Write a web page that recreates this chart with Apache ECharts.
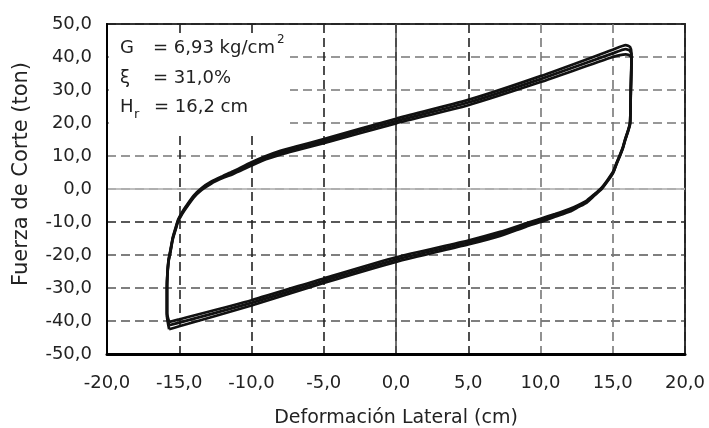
<!DOCTYPE html>
<html>
<head>
<meta charset="utf-8">
<script src="https://cdn.jsdelivr.net/npm/echarts@6/dist/echarts.min.js"></script>
<style>
  html, body { margin: 0; padding: 0; background: #fff; }
  #chart { width: 709px; height: 428px; }
</style>
</head>
<body>
<div id="chart"></div>
<script>
  // ticks
  let xTickLabels = ['-20,0', '-15,0', '-10,0', '-5,0', '0,0', '5,0', '10,0', '15,0', '20,0'];
  let yTickLabels = ['-50,0', '-40,0', '-30,0', '-20,0', '-10,0', '0,0', '10,0', '20,0', '30,0', '40,0', '50,0'];

  // lazo histeretico: deformacion (cm), recorrido desde la esquina inferior izquierda
  let deformacion = [-15.7, -15.85, -15.85, -15.75, -15.6, -15.45, -15.25, -15.07, -14.8, -14.5, -14.0, -13.45, -12.8, -12.0, -11.3, -10.0, -9.0, -8.0, -7.0, -5.0, 0.0, 5.0, 10.0, 15.0, 15.9, 16.2, 16.3, 16.25, 16.2, 16.08, 15.85, 15.7, 15.5, 15.25, 15.04, 14.65, 14.23, 13.7, 13.2, 12.6, 12.04, 11.0, 10.0, 9.0, 7.2, 5.0, 0.0, -5.0, -10.0, -15.0, -15.7];
  // fuerza de corte (ton) de tres ciclos
  let fuerzaCiclo1 = [-40.3, -37.5, -29.5, -21.7, -18.3, -14.7, -11.7, -9.2, -7.0, -5.0, -2.0, 0.3, 2.2, 3.9, 5.3, 8.1, 10.0, 11.6, 12.8, 15.1, 21.3, 27.0, 34.2, 42.2, 43.6, 43.0, 41.0, 30.5, 20.3, 18.1, 15.0, 12.7, 10.4, 7.8, 5.4, 2.8, 0.4, -1.7, -3.5, -4.9, -6.0, -7.6, -9.0, -10.4, -13.0, -15.6, -20.7, -27.1, -33.7, -39.5, -40.3];
  let fuerzaCiclo2 = [-41.3, -38.0, -30.0, -22.0, -18.6, -15.0, -12.0, -9.5, -7.3, -5.3, -2.3, 0.0, 1.9, 3.6, 4.9, 7.6, 9.5, 11.0, 12.2, 14.5, 20.6, 26.2, 33.3, 41.1, 42.4, 41.8, 40.0, 30.0, 20.0, 17.9, 14.8, 12.5, 10.2, 7.6, 5.2, 2.6, 0.2, -1.9, -3.8, -5.2, -6.4, -8.0, -9.5, -10.9, -13.6, -16.2, -21.4, -27.8, -34.5, -40.5, -41.3];
  let fuerzaCiclo3 = [-42.5, -38.5, -30.5, -22.3, -18.9, -15.3, -12.3, -9.8, -7.6, -5.6, -2.6, -0.3, 1.6, 3.3, 4.5, 7.1, 9.0, 10.4, 11.6, 13.9, 19.9, 25.4, 32.4, 40.0, 40.8, 40.4, 39.3, 29.5, 19.7, 17.7, 14.6, 12.3, 10.0, 7.4, 5.0, 2.4, 0.0, -2.1, -4.1, -5.5, -6.8, -8.4, -10.0, -11.4, -14.2, -16.8, -22.1, -28.5, -35.3, -41.6, -42.5];

  let fuente = '"DejaVu Sans", sans-serif';

  function ciclo(fuerza) {
    let data = [];
    for (let i = 0; i < deformacion.length; i++) {
      data.push([deformacion[i], fuerza[i]]);
    }
    return {
      type: 'line',
      data: data,
      showSymbol: false,
      smooth: 0.2,
      lineStyle: { color: '#111', width: 2.7 },
      z: 5
    };
  }

  let option = {
    animation: false,
    grid: {
      left: 107, right: 24, top: 24, bottom: 74,
      outerBoundsMode: 'none',
      show: true, borderColor: '#333', borderWidth: 2
    },
    xAxis: [{
      type: 'value',
      min: -20, max: 20, interval: 5,
      name: 'Deformación Lateral (cm)',
      nameLocation: 'middle',
      nameGap: 55,
      nameTextStyle: { fontFamily: fuente, fontSize: 19, color: '#222' },
      axisLine: { onZero: false, lineStyle: { color: '#000', width: 3 } },
      axisTick: { show: false },
      axisLabel: {
        fontFamily: fuente, fontSize: 18, color: '#222', margin: 20,
        formatter: function (v) { return xTickLabels[Math.round((v + 20) / 5)]; }
      },
      splitLine: {
        show: true,
        lineStyle: {
          color: ['#222', '#222', '#222', '#222', '#444', '#222', '#777', '#777', '#222'],
          width: 1.6, type: [9, 5]
        }
      }
    }, {
      // linea continua en x = 0
      type: 'value', position: 'top',
      min: -20, max: 20, interval: 20,
      axisLine: { show: false }, axisTick: { show: false }, axisLabel: { show: false },
      splitLine: { show: true, lineStyle: { color: ['rgba(0,0,0,0)', '#444', 'rgba(0,0,0,0)'], width: 1.5, type: 'solid' } }
    }],
    yAxis: [{
      type: 'value',
      min: -50, max: 50, interval: 10,
      name: 'Fuerza de Corte (ton)',
      nameLocation: 'middle',
      nameGap: 75,
      nameTextStyle: { fontFamily: fuente, fontSize: 21, color: '#222', padding: [0, 0, 0, 30] },
      axisLine: { onZero: false, lineStyle: { color: '#000', width: 2 } },
      axisTick: { show: false },
      axisLabel: {
        fontFamily: fuente, fontSize: 18, color: '#222', margin: 15,
        formatter: function (v) { return yTickLabels[Math.round((v + 50) / 10)]; }
      },
      splitLine: {
        show: true,
        lineStyle: {
          color: ['#222', '#555', '#555', '#555', '#222', '#aaa', '#777', '#777', '#777', '#777', '#222'],
          width: 1.6, type: [9, 5]
        }
      }
    }, {
      // linea continua en y = 0
      type: 'value', position: 'right',
      min: -50, max: 50, interval: 50,
      axisLine: { show: false }, axisTick: { show: false }, axisLabel: { show: false },
      splitLine: { show: true, lineStyle: { color: ['rgba(0,0,0,0)', '#aaa', 'rgba(0,0,0,0)'], width: 1.5, type: 'solid' } }
    }],
    graphic: [
      { type: 'rect', z: 100, shape: { x: 109, y: 33, width: 181, height: 101 }, style: { fill: '#fff' } },
      { type: 'text', z: 101, x: 120, y: 48, style: { text: 'G', font: '18px ' + fuente, fill: '#222', verticalAlign: 'middle' } },
      { type: 'text', z: 101, x: 153, y: 48, style: { text: '= 6,93 kg/cm', font: '18px ' + fuente, fill: '#222', verticalAlign: 'middle' } },
      { type: 'text', z: 101, x: 277, y: 40, style: { text: '2', font: '12px ' + fuente, fill: '#222', verticalAlign: 'middle' } },
      { type: 'text', z: 101, x: 120, y: 78, style: { text: 'ξ', font: '18px ' + fuente, fill: '#222', verticalAlign: 'middle' } },
      { type: 'text', z: 101, x: 153, y: 78, style: { text: '= 31,0%', font: '18px ' + fuente, fill: '#222', verticalAlign: 'middle' } },
      { type: 'text', z: 101, x: 120, y: 107, style: { text: 'H', font: '18px ' + fuente, fill: '#222', verticalAlign: 'middle' } },
      { type: 'text', z: 101, x: 134, y: 115, style: { text: 'r', font: '13px ' + fuente, fill: '#222', verticalAlign: 'middle' } },
      { type: 'text', z: 101, x: 154, y: 107, style: { text: '= 16,2 cm', font: '18px ' + fuente, fill: '#222', verticalAlign: 'middle' } }
    ],
    series: [ciclo(fuerzaCiclo1), ciclo(fuerzaCiclo2), ciclo(fuerzaCiclo3)]
  };

  echarts.init(document.getElementById('chart')).setOption(option);
</script>
</body>
</html>
